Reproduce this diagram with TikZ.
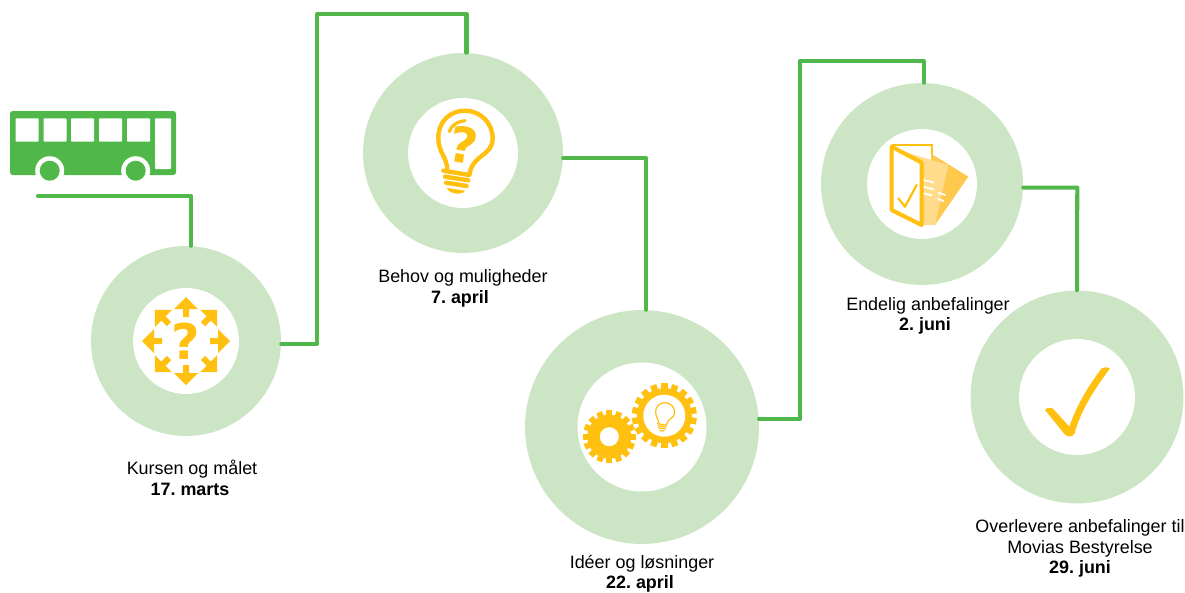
\documentclass[tikz,border=0pt]{standalone}
\usepackage{fontspec}
\setmainfont{Liberation Sans}
\newfontfamily\iconfont{DejaVu Sans}
\definecolor{busgreen}{RGB}{80,184,72}
\definecolor{ringgreen}{RGB}{204,229,196}
\definecolor{iconyellow}{RGB}{255,192,15}
\definecolor{pagelight}{RGB}{255,220,140}
\definecolor{pagedark}{RGB}{255,201,77}

% light bulb, drawn in the coordinates of a 330 wide box
\newcommand{\bulbicon}[4]{%
  \begin{scope}[shift={(#1,#2)}, scale=#3]
    \draw[iconyellow, line width=#4, line cap=round, line join=round]
      (112,212) .. controls (112,170) and (85,160) .. (85,112)
      .. controls (85,65) and (120,32) .. (165,32)
      .. controls (210,32) and (248,68) .. (248,115)
      .. controls (248,170) and (188,160) .. (178,225);
    \draw[iconyellow, line width=#4, line cap=round]
      (100,212) -- (178,225)
      (105,230) -- (175,241)
      (108,248) -- (170,258);
    \fill[iconyellow] (110,264) -- (165,272) .. controls (160,285) and (120,285) .. cycle;
  \end{scope}
}
% gear wheel with 2*#4 teeth
\newcommand{\gearicon}[6]{%
  \begin{scope}[shift={(#1,#2)}]
    \fill[iconyellow] (0,0) circle (#3);
    \foreach \a in {1,...,#4} {
      \fill[iconyellow, rotate=\a*180/#4] (-#6,-#5) rectangle (#6,#5);
    }
  \end{scope}
}

\begin{document}
\begin{tikzpicture}[
  x=0.02cm, y=-0.02cm,
  font=\fontsize{10.2}{11.6}\selectfont\frenchspacing,
  ring/.style={circle, fill=ringgreen, inner sep=0pt},
  hole/.style={circle, fill=white, inner sep=0pt},
  route/.style={draw=busgreen, line width=2.3pt, line cap=round, line join=round},
  caption/.style={align=center, inner sep=0pt, text=black},
  signmark/.style={text=iconyellow, inner sep=0pt, font=\iconfont\bfseries\fontsize{28}{28}\selectfont}
]
\useasboundingbox (0,0) rectangle (1185,592);

\node[ring, minimum size=3.8cm] (kursen) at (186,341) {};
\node[hole, minimum size=2.12cm] (kursenhole) at (186,341) {};
\node[ring, minimum size=4cm] (behov) at (463,153) {};
\node[hole, minimum size=2.2cm] (behovhole) at (463,153) {};
\node[ring, minimum size=4.68cm] (ideer) at (642,427) {};
\node[hole, minimum size=2.58cm] (ideerhole) at (642,427) {};
\node[ring, minimum size=4.04cm] (endelig) at (922,184) {};
\node[hole, minimum size=2.2cm] (endelighole) at (922,184) {};
\node[ring, minimum size=4.26cm] (overlevere) at (1077,397) {};
\node[hole, minimum size=2.32cm] (overleverehole) at (1077,397) {};

\coordinate (routestart) at (38,196);
\draw[route] (routestart) -| (kursen.87.6);
\draw[route] (kursen.-2) -| (317,14) -| (behov.88.3);
\draw[route] (behov.-3) -| (ideer.88);
\draw[route] (ideer.4) -| (800,61) -| (endelig.89);
\draw[route] (endelig.-2) -- ++(54,0) -- (overlevere.90);

% bus
\fill[busgreen, rounded corners=1.5pt] (10,111) rectangle (176,175);
\foreach \x in {15.7,43.5,71,99,127} {
  \fill[white, rounded corners=0.5pt] (\x,118.3) rectangle +(23,23.4);
}
\fill[white, rounded corners=0.5pt] (155,118.3) rectangle (171,169);
\foreach \x in {49.7,135.7} {
  \fill[white] (\x,170.7) circle (14.5);
  \fill[busgreen] (\x,170.7) circle (10);
}

% arrows round the question mark
\foreach \a in {0,45,...,315} {
  \fill[iconyellow, shift={(186,341)}, rotate=\a]
    (0,-44) -- (12,-32) -- (3,-32) -- (3,-24) -- (-3,-24) -- (-3,-32) -- (-12,-32) -- cycle;
}
\node[signmark] (kursenmark) at (186,341) {?};

% bulb
\bulbicon{410}{100}{0.3333}{2.5pt}
\draw[iconyellow, line width=1.8pt, line cap=round, shift={(410,100)}, scale=0.3333]
  (118,95) .. controls (122,78) and (140,65) .. (165,62);
\node[signmark, rotate=-10] (behovmark) at (464,145) {?};

% gears
\gearicon{609.3}{436.7}{22}{8}{26.5}{3}
\fill[white] (609.3,436.7) circle (9.5);
\gearicon{664.3}{415.7}{27.5}{9}{32.5}{3.2}
\fill[white] (664.3,415.7) circle (21);
\bulbicon{645.7}{398.9}{0.1167}{0.7pt}

% folder
\begin{scope}[shift={(870,130)}, scale=0.3333]
  \draw[iconyellow, line width=1pt] (65,45) -- (185,45) -- (185,80);
  \fill[pagedark] (185,72) -- (295,140) -- (195,285) -- (155,285) -- cycle;
  \fill[pagelight] (110,68) -- (235,105) -- (195,285) -- (155,285) -- (155,98) -- cycle;
  \draw[white, line width=1pt, line cap=round]
    (160,150) -- (190,157) (160,170) -- (190,178) (160,190) -- (185,196)
    (205,188) -- (225,195) (205,207) -- (220,213);
  \fill[white] (65,50) -- (155,98) -- (155,285) -- (65,240) -- cycle;
  \draw[iconyellow, line width=2.3pt, line join=round] (65,50) -- (155,98) -- (155,285) -- (65,240) -- cycle;
  \draw[iconyellow, line width=1.3pt, line cap=round, line join=round] (85,205) -- (105,230) -- (140,165);
\end{scope}

% check mark
\begin{scope}[shift={(1030,355)}, scale=0.3333]
  \fill[iconyellow] (45,165) .. controls (50,158) and (62,155) .. (70,162)
    -- (118,215) .. controls (140,150) and (180,85) .. (215,40)
    .. controls (225,36) and (235,36) .. (240,40)
    .. controls (195,100) and (150,170) .. (134,235)
    .. controls (128,247) and (112,247) .. (104,238) -- cycle;
\end{scope}

\node[caption] (kursentext) at (192,478) {Kursen og målet\\\textbf{17. marts}\hspace*{0.08cm}};
\node[caption] (behovtext) at (463,288.5) {Behov og muligheder\\\textbf{7. april}\hspace*{0.12cm}};
\node[caption] (ideertext) at (642,573.5) {Idéer og løsninger\\\textbf{22. april}\hspace*{0.08cm}};
\node[caption] (endeligtext) at (928,316) {Endelig anbefalinger\\\textbf{2. juni}\hspace*{0.12cm}};
\node[caption] (overleveretext) at (1080,548.5) {Overlevere anbefalinger til\\Movias Bestyrelse\\\textbf{29. juni}};
\end{tikzpicture}
\end{document}
